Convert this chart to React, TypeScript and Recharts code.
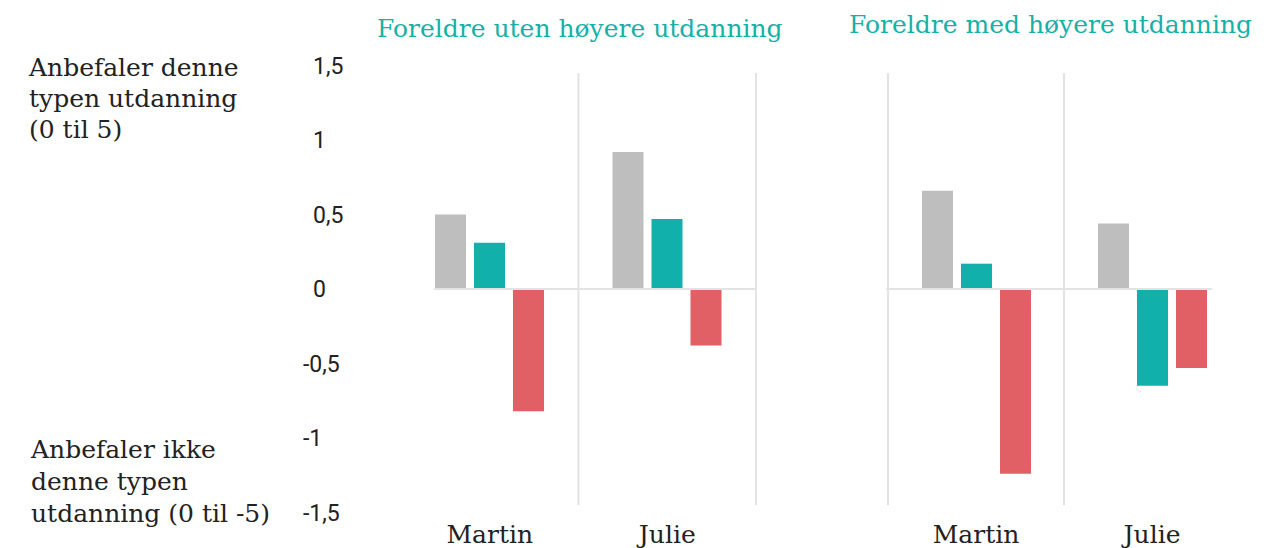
import React from "react";
import { BarChart, Bar, XAxis, YAxis, ReferenceLine } from "recharts";

const categories = ["Martin", "Julie"];
const yTicks = [-1.5, -1, -0.5, 0, 0.5, 1, 1.5];

// Foreldre uten høyere utdanning
const utenGra = [0.5, 0.92];
const utenGronn = [0.31, 0.47];
const utenRod = [-0.82, -0.38];

// Foreldre med høyere utdanning
const medGra = [0.66, 0.44];
const medGronn = [0.17, -0.65];
const medRod = [-1.24, -0.53];

const GREY = "#bebebe";
const TEAL = "#12b0aa";
const RED = "#e06066";
const GRID = "#e3e3e3";
const SLAB = "'DejaVu Serif', serif";

const build = (a: number[], b: number[], c: number[]) =>
  categories.map((name, i) => ({ name, gra: a[i], gronn: b[i], rod: c[i] }));

const utenData = build(utenGra, utenGronn, utenRod);
const medData = build(medGra, medGronn, medRod);

const fmt = (v: number) => String(v).replace(".", ",");

const YTick = (props: any) => {
  const v = props.payload.value as number;
  return (
    <text
      x={props.x - 80 - (v < 0 ? 10 : 0)}
      y={props.y}
      dy="0.36em"
      textAnchor="start"
      fill="#222"
      fontSize={23}
      fontFamily="Roboto, sans-serif"
    >
      {fmt(v)}
    </text>
  );
};

const XTick = (props: any) => (
  <text
    x={props.x}
    y={props.y + 13}
    dy="0.36em"
    textAnchor="middle"
    fill="#222"
    fontSize={25}
    fontFamily={SLAB}
  >
    {props.payload.value}
  </text>
);

const H = 548;

// hidden numeric axis "g" runs 0..1 across each panel; used for grid & zero line
function Panel(props: {
  data: any[];
  width: number;
  left: number;
  margin: { left: number; right: number };
  showY: boolean;
  grid: number[];
  zero: [number, number];
}) {
  return (
    <div style={{ position: "absolute", left: props.left, top: 0 }}>
      <BarChart
        width={props.width}
        height={H}
        data={props.data}
        margin={{ top: 65.5, bottom: 0, left: props.margin.left, right: props.margin.right }}
        barSize={31}
        barGap={8}
      >
        <XAxis dataKey="name" height={35.5} axisLine={false} tickLine={false} tick={<XTick />} interval={0} />
        <XAxis xAxisId="g" type="number" domain={[0, 1]} allowDataOverflow hide />
        <YAxis
          domain={[-1.5, 1.5]}
          ticks={yTicks}
          width={100}
          axisLine={false}
          tickLine={false}
          tick={<YTick />}
          hide={!props.showY}
          interval={0}
        />
        {props.grid.map((g) => (
          <ReferenceLine
            key={g}
            xAxisId="g"
            segment={[
              { x: g, y: 1.45 },
              { x: g, y: -1.45 },
            ]}
            stroke={GRID}
            strokeWidth={2}
            ifOverflow="visible"
          />
        ))}
        <ReferenceLine
          xAxisId="g"
          segment={[
            { x: props.zero[0], y: 0 },
            { x: props.zero[1], y: 0 },
          ]}
          stroke={GRID}
          strokeWidth={2}
          ifOverflow="visible"
        />
        <Bar dataKey="gra" fill={GREY} isAnimationActive={false} />
        <Bar dataKey="gronn" fill={TEAL} isAnimationActive={false} />
        <Bar dataKey="rod" fill={RED} isAnimationActive={false} />
      </BarChart>
    </div>
  );
}

const titleStyle: React.CSSProperties = {
  position: "absolute",
  color: "#17b0a8",
  fontFamily: SLAB,
  fontSize: 25,
  whiteSpace: "nowrap",
};

const noteStyle: React.CSSProperties = {
  position: "absolute",
  color: "#222",
  fontFamily: SLAB,
  fontSize: 25,
  lineHeight: "31px",
  whiteSpace: "nowrap",
};

export default function App() {
  return (
    <div style={{ position: "absolute", left: 0, top: 0, width: 1281, height: H, background: "#fff" }}>
      <div style={{ ...titleStyle, left: 377, top: 14 }}>Foreldre uten høyere utdanning</div>
      <div style={{ ...titleStyle, left: 849, top: 10 }}>Foreldre med høyere utdanning</div>
      <div style={{ ...noteStyle, left: 29, top: 52 }}>
        Anbefaler denne
        <br />
        typen utdanning
        <br />
        (0 til 5)
      </div>
      <div style={{ ...noteStyle, left: 31, top: 434, lineHeight: "32px" }}>
        Anbefaler ikke
        <br />
        denne typen
        <br />
        utdanning (0 til -5)
      </div>
      <Panel
        data={utenData}
        left={0}
        width={770}
        margin={{ left: 301, right: 14 }}
        showY
        grid={[0.5, 1]}
        zero={[0.093, 1]}
      />
      <Panel
        data={medData}
        left={860}
        width={421}
        margin={{ left: 28, right: 41 }}
        showY={false}
        grid={[0, 0.5]}
        zero={[-0.005, 0.92]}
      />
    </div>
  );
}
